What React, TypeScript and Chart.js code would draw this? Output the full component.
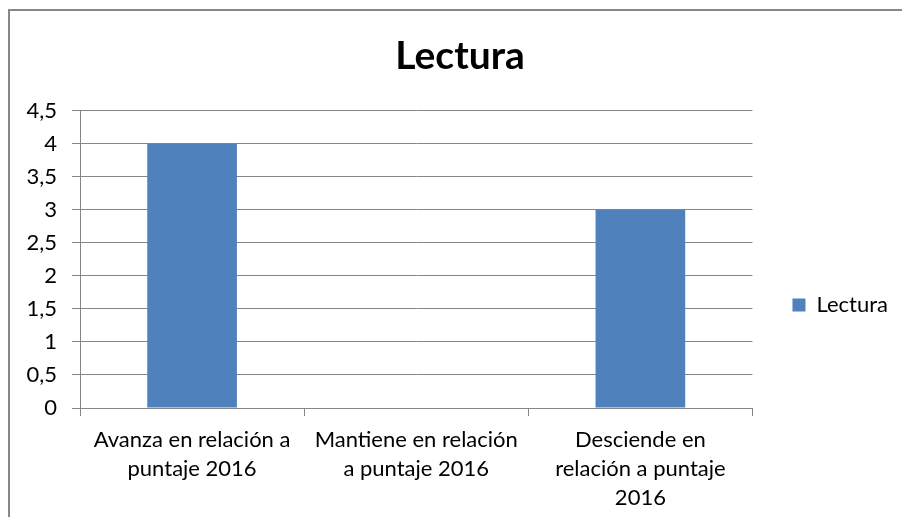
import React, { useEffect, useRef } from "react";
import { Chart, registerables } from "chart.js";

Chart.register(...registerables);

const chartTitle = "Lectura";
const seriesName = "Lectura";
const categories: string[][] = [
  ["Avanza en relación a", "puntaje 2016"],
  ["Mantiene en relación", "a puntaje 2016"],
  ["Desciende en", "relación a puntaje", "2016"],
];
const values: number[] = [4, 0, 3];
const yTickLabels: string[] = ["0", "0,5", "1", "1,5", "2", "2,5", "3", "3,5", "4", "4,5"];
const yMin = 0;
const yMax = 4.5;
const yStep = 0.5;

const CANVAS_W = 902;
const CANVAS_H = 590;

export default function App() {
  const ref = useRef<HTMLCanvasElement>(null);

  useEffect(() => {
    const canvas = ref.current;
    if (!canvas) return;
    const FONT = "Lato, 'Open Sans', sans-serif";
    const GRID = "#868686";
    const chart = new Chart(canvas, {
      type: "bar",
      data: {
        labels: categories,
        datasets: [
          {
            label: seriesName,
            data: values,
            backgroundColor: "#4F81BD",
            borderWidth: 0,
            barPercentage: 0.4,
            categoryPercentage: 1,
          },
        ],
      },
      options: {
        animation: false,
        responsive: false,
        devicePixelRatio: 1,
        layout: { padding: { left: 13, top: 0, bottom: 0, right: 13 } },
        plugins: {
          title: {
            display: true,
            text: chartTitle,
            color: "#000",
            font: { family: FONT, size: 39, weight: "bold", lineHeight: 1.2 },
            padding: { top: 23, bottom: 31 },
          },
          legend: {
            display: true,
            position: "right",
            labels: {
              boxWidth: 13,
              boxHeight: 13,
              padding: 40,
              color: "#000",
              font: { family: FONT, size: 22 },
            },
          },
          tooltip: { enabled: false },
        },
        scales: {
          x: {
            grid: {
              display: true,
              drawOnChartArea: false,
              drawTicks: true,
              tickLength: 8,
              color: GRID,
              offset: true,
            },
            border: { display: true, color: GRID },
            ticks: {
              color: "#000",
              font: { family: FONT, size: 22, lineHeight: 1.3 },
              padding: 10,
              maxRotation: 0,
              autoSkip: false,
            },
            afterFit: (s: any) => {
              s.height = 192;
            },
          },
          y: {
            min: yMin,
            max: yMax,
            ticks: {
              stepSize: yStep,
              color: "#000",
              font: { family: FONT, size: 22 },
              padding: 15,
              callback: (_v: any, i: number) => yTickLabels[i],
            },
            grid: { color: GRID, tickLength: 8, drawTicks: true },
            border: { display: true, color: GRID },
            afterFit: (s: any) => {
              s.width = 58;
            },
          },
        },
      },
    } as any);
    return () => chart.destroy();
  }, []);

  return (
    <div
      style={{
        position: "fixed",
        left: 0,
        top: 0,
        width: 902,
        height: 517,
        overflow: "hidden",
        background: "#fff",
      }}
    >
      <div
        style={{
          position: "absolute",
          left: 8,
          top: 9,
          width: 1000,
          height: 1000,
          borderLeft: "2px solid #878787",
          borderTop: "2px solid #878787",
        }}
      />
      <canvas
        ref={ref}
        width={CANVAS_W}
        height={CANVAS_H}
        style={{ position: "absolute", left: 9, top: 10, display: "block" }}
      />
    </div>
  );
}
